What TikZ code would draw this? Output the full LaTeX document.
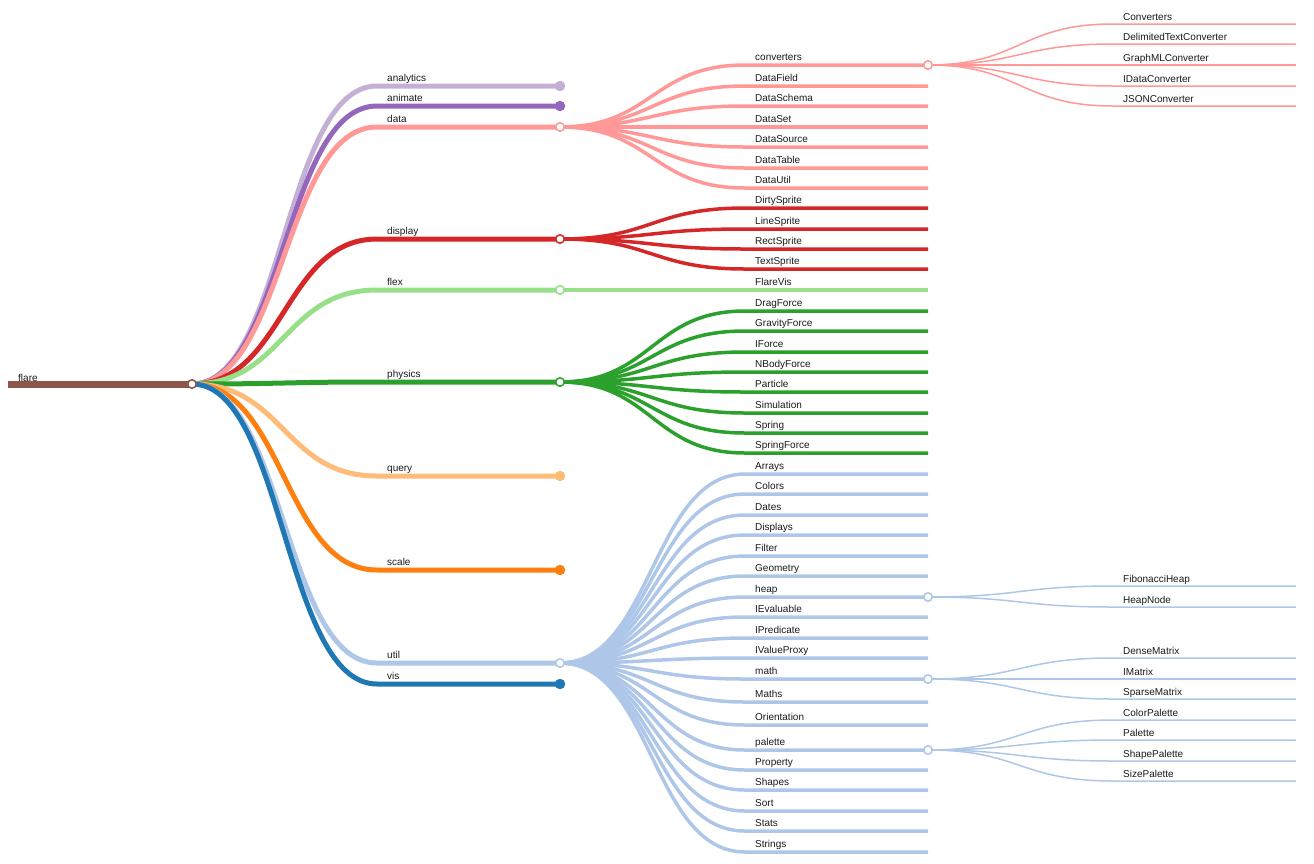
\documentclass[tikz,border=0pt]{standalone}
\usepackage{fontspec}
\setmainfont{Liberation Sans}
\usetikzlibrary{calc}

\definecolor{flarec}{HTML}{8C564B}
\definecolor{analyticsc}{HTML}{C5B0D5}
\definecolor{animatec}{HTML}{9467BD}
\definecolor{datac}{HTML}{FF9896}
\definecolor{displayc}{HTML}{D62728}
\definecolor{flexc}{HTML}{98DF8A}
\definecolor{physicsc}{HTML}{2CA02C}
\definecolor{queryc}{HTML}{FFBB78}
\definecolor{scalec}{HTML}{FF7F0E}
\definecolor{utilc}{HTML}{AEC7E8}
\definecolor{visc}{HTML}{1F77B4}

% curve out of the parent, then straight on to the child
\newcommand{\hlink}[3]{%
  \draw[#3] (#1) .. controls ($(#1)+(92,0)$) and ($(#1 |- #2)+(92,0)$)
    .. ($(#1 |- #2)+(185,0)$) -- (#2);}

% children of one parent: parent, x, link style, label lift, list of name/y
\newcommand{\kids}[5]{%
  \foreach \n/\y in {#5} {
    \coordinate (\n) at (#2,\y);
    \hlink{#1}{\n}{#3}
    \node[lbl] (\n-t) at ($(\n)+(-173,-#4)$) {\n};
  }}

\begin{document}
\begin{tikzpicture}[x=1pt, y=-1pt,
    lbl/.style={anchor=base west, inner sep=0pt, font=\fontsize{10}{12}\selectfont, text=black!90},
    l0/.style={line width=7pt},
    l1/.style={line width=5pt},
    l2/.style={line width=3.5pt},
    l3/.style={line width=1.5pt},
    open/.style={circle, draw, fill=white, line width=1.5pt, minimum size=8.5pt, inner sep=0pt},
    full/.style={circle, minimum size=10.5pt, inner sep=0pt}]
  \useasboundingbox (0,0) rectangle (1314,863);

  % root
  \coordinate (flare-in) at (8,384);
  \coordinate (flare) at (192,384);
  \draw[l0, flarec] (flare-in) -- (flare);
  \node[lbl] (flare-t) at ($(flare)+(-174,-3)$) {flare};

  % first level
  \foreach \n/\y/\c in {analytics/86/analyticsc, animate/106/animatec, data/127/datac,
      display/239/displayc, flex/290/flexc, physics/382/physicsc, query/476/queryc,
      scale/570/scalec, util/663/utilc, vis/684/visc} {
    \coordinate (\n) at (560,\y);
    \hlink{flare}{\n}{l1, \c}
    \node[lbl] (\n-t) at ($(\n)+(-173,-5)$) {\n};
  }

  % second level
  \kids{data}{928}{l2, datac}{5}{converters/65, DataField/86, DataSchema/106,
    DataSet/127, DataSource/147, DataTable/168, DataUtil/188}
  \kids{display}{928}{l2, displayc}{5}{DirtySprite/208, LineSprite/229,
    RectSprite/249, TextSprite/269}
  \kids{flex}{928}{l2, flexc}{5}{FlareVis/290}
  \kids{physics}{928}{l2, physicsc}{5}{DragForce/311, GravityForce/331, IForce/352,
    NBodyForce/372, Particle/392, Simulation/413, Spring/433, SpringForce/453}
  \kids{util}{928}{l2, utilc}{5}{Arrays/474, Colors/494, Dates/515, Displays/535,
    Filter/556, Geometry/576, heap/597, IEvaluable/617, IPredicate/638,
    IValueProxy/658, math/679, Maths/702, Orientation/725, palette/750,
    Property/770, Shapes/790, Sort/811, Stats/831, Strings/852}

  % third level
  \kids{converters}{1296}{l3, datac}{4}{Converters/24, DelimitedTextConverter/44,
    GraphMLConverter/65, IDataConverter/86, JSONConverter/106}
  \kids{heap}{1296}{l3, utilc}{4}{FibonacciHeap/586, HeapNode/607}
  \kids{math}{1296}{l3, utilc}{4}{DenseMatrix/658, IMatrix/679, SparseMatrix/699}
  \kids{palette}{1296}{l3, utilc}{4}{ColorPalette/720, Palette/740,
    ShapePalette/761, SizePalette/781}

  % node dots
  \foreach \n/\c in {analytics/analyticsc, animate/animatec, query/queryc,
      scale/scalec, vis/visc}
    \node[full, fill=\c] (\n-dot) at (\n) {};
  \foreach \n/\c in {flare/flarec, data/datac, display/displayc, flex/flexc,
      physics/physicsc, util/utilc, converters/datac, heap/utilc, math/utilc,
      palette/utilc}
    \node[open, draw=\c] (\n-dot) at (\n) {};
\end{tikzpicture}
\end{document}
